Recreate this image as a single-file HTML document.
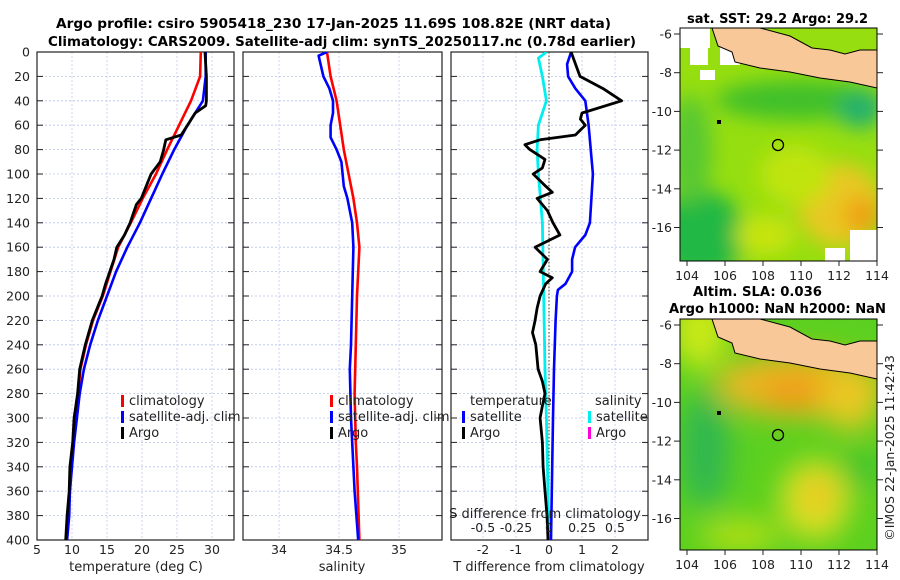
<!DOCTYPE html>
<html><head><meta charset="utf-8"><style>
html,body{margin:0;padding:0;background:#fff;}
svg{display:block;font-family:"DejaVu Sans","Liberation Sans",sans-serif;}
</style></head><body>
<svg id="fig" width="900" height="580" viewBox="0 0 900 580" xmlns="http://www.w3.org/2000/svg">
<defs>
<filter id="blur1" x="-50%" y="-50%" width="200%" height="200%"><feGaussianBlur stdDeviation="10"/></filter>
<filter id="blur2" x="-50%" y="-50%" width="200%" height="200%"><feGaussianBlur stdDeviation="14"/></filter>
<clipPath id="m1clip"><rect x="680" y="28" width="197" height="233"/></clipPath>
<clipPath id="m2clip"><rect x="680" y="319" width="197" height="231"/></clipPath>
<clipPath id="p1clip"><rect x="37" y="52" width="197" height="488"/></clipPath>
<clipPath id="p2clip"><rect x="243" y="52" width="199" height="488"/></clipPath>
<clipPath id="p3clip"><rect x="451" y="52" width="197" height="488"/></clipPath>
</defs>
<text x="56" y="28" textLength="555" lengthAdjust="spacingAndGlyphs" font-size="13.5" font-weight="bold">Argo profile: csiro 5905418_230 17-Jan-2025 11.69S 108.82E (NRT data)</text>
<text x="48" y="46" textLength="588" lengthAdjust="spacingAndGlyphs" font-size="13.5" font-weight="bold">Climatology: CARS2009. Satellite-adj clim: synTS_20250117.nc (0.78d earlier)</text>

<g id="p1"></g>
<g id="p2"></g>
<g id="p3"></g>

<!-- Map 1: SST -->
<g>
<text x="687" y="23" textLength="181" lengthAdjust="spacingAndGlyphs" font-size="13.5" font-weight="bold">sat. SST: 29.2 Argo: 29.2</text>
<g clip-path="url(#m1clip)">
<rect x="680" y="28" width="197" height="233" fill="#96de10"/>
<g filter="url(#blur1)">
<ellipse cx="700" cy="235" rx="45" ry="45" fill="#22b845"/>
<ellipse cx="690" cy="150" rx="22" ry="55" fill="#58c830"/>
<ellipse cx="800" cy="100" rx="85" ry="20" fill="#40c02c"/>
<ellipse cx="860" cy="110" rx="22" ry="18" fill="#20b070"/>
<ellipse cx="840" cy="205" rx="42" ry="42" fill="#e8c820"/>
<ellipse cx="862" cy="215" rx="18" ry="18" fill="#f0a018"/>
<ellipse cx="795" cy="175" rx="35" ry="30" fill="#c0e410"/>
<ellipse cx="765" cy="235" rx="30" ry="20" fill="#c8e410"/>
</g>
<rect x="680" y="28" width="30" height="20" fill="#fff"/>
<rect x="690" y="40" width="18" height="25" fill="#fff"/>
<rect x="720" y="45" width="20" height="20" fill="#fff"/>
<rect x="700" y="70" width="15" height="10" fill="#fff"/>
<rect x="850" y="230" width="27" height="31" fill="#fff"/>
<rect x="825" y="248" width="20" height="13" fill="#fff"/>
<polygon points="712,28 760,28 790,36 812,48 830,50 845,54 860,50 877,50 877,88 850,82 820,78 790,72 760,68 735,62 732,52 718,46" fill="#f8c898" stroke="#000" stroke-width="1"/>
<circle cx="778" cy="145" r="5.5" fill="none" stroke="#000" stroke-width="1.3"/>
<rect x="717" y="120" width="4" height="4" fill="#000"/>
</g>
<rect x="680" y="28" width="197" height="233" fill="none" stroke="#000" stroke-width="1"/>
<g id="m1ax"></g>
</g>

<!-- Map 2: SLA -->
<g>
<text x="693" y="296" textLength="129" lengthAdjust="spacingAndGlyphs" font-size="13.5" font-weight="bold">Altim. SLA: 0.036</text>
<text x="669" y="313" textLength="217" lengthAdjust="spacingAndGlyphs" font-size="13.5" font-weight="bold">Argo h1000: NaN h2000: NaN</text>
<g clip-path="url(#m2clip)">
<rect x="680" y="319" width="197" height="231" fill="#5cd020"/>
<g filter="url(#blur2)">
<ellipse cx="700" cy="330" rx="30" ry="40" fill="#c8e818"/>
<ellipse cx="800" cy="385" rx="85" ry="32" fill="#e8b820"/>
<ellipse cx="795" cy="392" rx="35" ry="14" fill="#f09818"/>
<ellipse cx="850" cy="400" rx="30" ry="30" fill="#e8c820"/>
<ellipse cx="705" cy="450" rx="25" ry="60" fill="#30b850"/>
<ellipse cx="815" cy="500" rx="35" ry="40" fill="#d8e020"/>
<ellipse cx="818" cy="495" rx="14" ry="18" fill="#f0c020"/>
<ellipse cx="740" cy="535" rx="40" ry="15" fill="#b8e018"/>
<ellipse cx="860" cy="470" rx="15" ry="20" fill="#30c030"/>
</g>
<polygon points="712,319 760,319 790,327 812,339 830,341 845,345 860,341 877,341 877,379 850,373 820,369 790,363 760,359 735,353 732,343 718,337" fill="#f8c898" stroke="#000" stroke-width="1"/>
<circle cx="778" cy="435" r="5.5" fill="none" stroke="#000" stroke-width="1.3"/>
<rect x="717" y="411" width="4" height="4" fill="#000"/>
</g>
<rect x="680" y="319" width="197" height="231" fill="none" stroke="#000" stroke-width="1"/>
<g id="m2ax"></g>
</g>
<text transform="translate(894,448) rotate(-90)" text-anchor="middle" font-size="12.5" fill="#222">©IMOS 22-Jan-2025 11:42:43</text>
</svg>
<script>
// ---- data ----
const depthClim = [0,20,40,60,80,100,120,140,160,180,200,220,240,260,280,300,320,340,360,380,400];
const tempClim  = [28.4,28.3,27.0,25.3,23.6,22.0,20.1,18.4,16.6,15.5,14.4,13.0,12.0,11.2,10.9,10.4,10.2,9.8,9.7,9.4,9.2];
const tempSat   = [29.1,29.1,28.7,26.5,24.6,22.9,21.3,19.7,17.9,16.3,15.0,13.7,12.6,11.7,11.1,10.7,10.3,10.0,9.7,9.6,9.3];
const depthArgo = [0,20,40,44,50,60,68,72,80,90,100,110,120,125,140,150,160,170,180,190,200,220,240,260,280,300,320,340,360,380,400];
const tempArgo  = [29.0,29.2,29.2,29.1,27.6,26.5,25.6,23.4,23.1,22.6,21.3,20.6,19.9,19.2,18.3,17.5,16.4,16.0,15.4,14.8,14.3,12.9,11.9,11.1,10.8,10.3,10.1,9.7,9.6,9.3,9.1];

const depthSal  = [0,20,40,60,80,100,120,140,160,180,200,240,280,320,340,400];
const salClim   = [34.40,34.43,34.48,34.51,34.54,34.58,34.62,34.65,34.67,34.66,34.65,34.64,34.63,34.64,34.65,34.67];
const depthSalS = [0,3,20,30,40,50,60,70,80,90,100,110,120,140,160,200,240,260,300,320,360,400];
const salSat    = [34.40,34.33,34.37,34.42,34.45,34.45,34.43,34.43,34.48,34.52,34.53,34.54,34.57,34.61,34.62,34.61,34.60,34.59,34.60,34.61,34.63,34.66];

const depthDT   = [0,20,30,40,48,50,55,60,68,72,76,80,88,95,100,110,115,120,130,140,150,160,170,180,185,190,200,210,220,230,240,260,270,280,290,300,320,340,360,380,400];
const dTArgo    = [0.67,0.94,1.64,2.2,1.24,1.0,0.95,1.1,0.8,-0.27,-0.73,-0.58,-0.12,-0.2,-0.48,-0.1,0.1,-0.36,-0.05,0.12,0.33,-0.42,-0.05,-0.27,0.1,-0.1,-0.27,-0.36,-0.42,-0.5,-0.4,-0.33,-0.2,-0.12,-0.2,-0.27,-0.2,-0.18,-0.12,-0.06,-0.03];
const depthDTS  = [0,10,20,30,40,60,100,140,150,160,170,180,190,195,200,220,260,300,400];
const dTSat     = [0.67,0.55,0.58,0.8,1.1,1.2,1.33,1.24,1.1,0.79,0.7,0.7,0.5,0.27,0.24,0.2,0.15,0.12,0.06];
const depthDS   = [0,5,20,40,60,80,100,140,200,260,300,400];
const dSSat     = [-0.02,-0.08,-0.05,-0.02,-0.08,-0.09,-0.08,-0.05,-0.04,-0.03,-0.02,0.0];

const depthTicks = [0,20,40,60,80,100,120,140,160,180,200,220,240,260,280,300,320,340,360,380,400];
const tempTicks = [5,10,15,20,25,30];
const salTicks = [34,34.5,35];
const dTTicks = [-2,-1,0,1,2];
const dSTickLabels = ['-0.5','-0.25','0','0.25','0.5'];
const dSTicks = [-0.5,-0.25,0,0.25,0.5];
const latTicks = [-6,-8,-10,-12,-14,-16];
const lonTicks = [104,106,108,110,112,114];

// ---- scales ----
const Y0=52, Y1=540;
const yD = d => Y0 + d*(Y1-Y0)/400;
const xT = t => 37 + (t-5)*7;
const xS = s => 279 + (s-34)*120;
const xDT = t => 549 + t*33;
const xDS = s => 549 + s*132;
const NS='http://www.w3.org/2000/svg';
function mk(tag, attrs, parent){const e=document.createElementNS(NS,tag);for(const k in attrs)e.setAttribute(k,attrs[k]);parent.appendChild(e);return e;}

function panel(g, x0, x1, xticks, xscale, showY){
  depthTicks.forEach(d=>{
    const l=mk('line',{x1:x0,x2:x1,y1:yD(d),y2:yD(d),stroke:'#b8c4ec','stroke-width':0.8,'stroke-dasharray':'2,2'},g);
    
    
  });
  xticks.forEach(t=>{
    const l=mk('line',{x1:xscale(t),x2:xscale(t),y1:Y0,y2:Y1,stroke:'#c8c8e8','stroke-width':0.8,'stroke-dasharray':'2,2'},g);
    
    
  });
  const r=mk('rect',{x:x0,y:Y0,width:x1-x0,height:Y1-Y0,fill:'none',stroke:'#222','stroke-width':1.2},g);
  
  
  depthTicks.forEach(d=>{
    mk('line',{x1:x0,x2:x0+6,y1:yD(d),y2:yD(d),stroke:'#222','stroke-width':1},g);
    mk('line',{x1:x1-6,x2:x1,y1:yD(d),y2:yD(d),stroke:'#222','stroke-width':1},g);
    if(showY){
      const t=mk('text',{x:x0-7,y:yD(d)+4.5,'text-anchor':'end','font-size':12.5,fill:'#222'},g);
      t.textContent=d;
      
      
    }
  });
}
function line(g, xs, ds, xscale, color, w, name, clip){
  const pts = xs.map((v,i)=>xscale(v).toFixed(1)+','+yD(ds[i]).toFixed(1)).join(' ');
  const p=mk('polyline',{points:pts,fill:'none',stroke:color,'stroke-width':w,'stroke-linejoin':'round','clip-path':'url(#'+clip+')'},g);
  
  
}
function xlabels(g, ticks, labels, xscale, y, name){
  ticks.forEach((t,i)=>{
    const e=mk('text',{x:xscale(t),y:y,'text-anchor':'middle','font-size':12.5,fill:'#222'},g);
    e.textContent=labels[i];
    
    
  });
}
function legend(g, x, y, items){
  items.forEach((it,i)=>{
    mk('rect',{x:x,y:y+i*16-10,width:3,height:12,fill:it[1]},g);
    const e=mk('text',{x:x+8,y:y+i*16,'font-size':13,fill:'#222'},g);
    e.textContent=it[0];
    
    
  });
}

const g1=document.getElementById('p1');
panel(g1,37,234,tempTicks,xT,true);
line(g1,tempClim,depthClim,xT,'#ff0000',2.6,'climatology-temperature-line','p1clip');
line(g1,tempSat,depthClim,xT,'#0000ff',2.6,'satellite-temperature-line','p1clip');
line(g1,tempArgo,depthArgo,xT,'#000000',2.8,'argo-temperature-line','p1clip');
xlabels(g1,tempTicks,tempTicks.map(String),xT,554,'temperature-tick-label');
{const e=mk('text',{x:136,y:571,'text-anchor':'middle','font-size':13,fill:'#222'},g1);e.textContent='temperature (deg C)';}
legend(g1,121,405,[['climatology','#ff0000'],['satellite-adj. clim','#0000ff'],['Argo','#000']]);

const g2=document.getElementById('p2');
panel(g2,243,442,salTicks,xS,false);
line(g2,salClim,depthSal,xS,'#ff0000',2.6,'climatology-salinity-line','p2clip');
line(g2,salSat,depthSalS,xS,'#0000ff',2.6,'satellite-salinity-line','p2clip');
xlabels(g2,salTicks,['34','34.5','35'],xS,554,'salinity-tick-label');
{const e=mk('text',{x:342,y:571,'text-anchor':'middle','font-size':13,fill:'#222'},g2);e.textContent='salinity';}
legend(g2,330,405,[['climatology','#ff0000'],['satellite-adj. clim','#0000ff'],['Argo','#000']]);

const g3=document.getElementById('p3');
panel(g3,451,648,dTTicks,xDT,false);
{const l=mk('line',{x1:549,x2:549,y1:Y0,y2:Y1,stroke:'#404020','stroke-width':1,'stroke-dasharray':'1.5,2'},g3);}
line(g3,dSSat,depthDS,xDS,'#00eeee',2.8,'satellite-salinity-diff-line','p3clip');
line(g3,dTSat,depthDTS,xDT,'#0000ff',2.6,'satellite-temperature-diff-line','p3clip');
line(g3,dTArgo,depthDT,xDT,'#000000',2.8,'argo-temperature-diff-line','p3clip');
xlabels(g3,dTTicks,dTTicks.map(String),xDT,554,'t-diff-tick-label');
xlabels(g3,dSTicks,dSTickLabels,xDS,532,'s-diff-tick-label');
{const e=mk('text',{x:549,y:571,'text-anchor':'middle','font-size':13,fill:'#222'},g3);e.textContent='T difference from climatology';}
{const e=mk('text',{x:545,y:518,'text-anchor':'middle','font-size':13,fill:'#222'},g3);e.textContent='S difference from climatology';}
{const e=mk('text',{x:470,y:405,'font-size':13,fill:'#222'},g3);e.textContent='temperature';}
{const e=mk('text',{x:595,y:405,'font-size':13,fill:'#222'},g3);e.textContent='salinity';}
legend(g3,462,421,[['satellite','#0000ff'],['Argo','#000']]);
legend(g3,588,421,[['satellite','#00eeee'],['Argo','#ff00dd']]);

function mapAxes(id, yTop, yBot, lat0y){
  const g=document.getElementById(id);
  const latY = l => lat0y + (-6-l)*19.35;
  const lonX = l => 687 + (l-104)*19;
  latTicks.forEach(l=>{
    mk('line',{x1:674,x2:680,y1:latY(l),y2:latY(l),stroke:'#222'},g);
    mk('line',{x1:877,x2:883,y1:latY(l),y2:latY(l),stroke:'#222'},g);
    const t=mk('text',{x:672,y:latY(l)+4.5,'text-anchor':'end','font-size':12.5,fill:'#222'},g);
    t.textContent=l;
    
    
  });
  lonTicks.forEach(l=>{
    mk('line',{x1:lonX(l),x2:lonX(l),y1:yBot,y2:yBot+5,stroke:'#222'},g);
    const t=mk('text',{x:lonX(l),y:yBot+19,'text-anchor':'middle','font-size':12.5,fill:'#222'},g);
    t.textContent=l;
    
    
  });
}
mapAxes('m1ax',28,261,34);
mapAxes('m2ax',319,550,325);
</script>
</body></html>
